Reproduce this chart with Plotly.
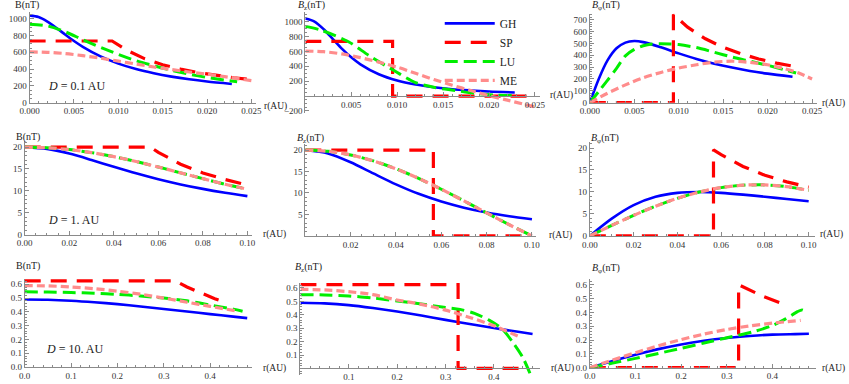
import plotly.graph_objects as go

W, H = 849, 384

# ---------------- data ----------------
# Row 1 : D = 0.1 AU
r1_gh = [0, 0.001, 0.002, 0.003, 0.004, 0.005, 0.006, 0.008, 0.010, 0.012, 0.014, 0.016, 0.018, 0.020, 0.0228]
b1_gh = [1040, 1020, 966, 892, 812, 735, 666, 551, 465, 400, 350, 310, 278, 252, 223]
bz1_gh = [1040, 1000, 897, 765, 634, 520, 426, 292, 208, 154, 118, 92, 75, 61, 48]
bp1_gh = [0, 200, 359, 459, 507, 520, 511, 467, 416, 369, 329, 296, 268, 245, 218]

r1_sp_b = [0, 0.0093, 0.011, 0.013, 0.015, 0.017, 0.019, 0.021, 0.023, 0.0245]
b1_sp = [735, 735, 622, 522, 452, 400, 358, 325, 297, 280]
r1_sp_z = [0, 0.0095, 0.0095, 0.0245]
bz1_sp = [735, 735, 0, 0]
r1_sp_p = [0, 0.0094, 0.0094, 0.011, 0.013, 0.015, 0.017, 0.019, 0.021, 0.0237]
bp1_sp = [0, 0, 745, 637, 539, 467, 412, 369, 334, 296]

r1_lu_b = [0, 0.002, 0.004, 0.006, 0.008, 0.010, 0.012, 0.014, 0.016, 0.018, 0.020, 0.022, 0.0234]
b1_lu = [935, 915, 845, 750, 660, 575, 500, 440, 385, 340, 300, 268, 250]
r1_lu_z = [0, 0.0017, 0.0047, 0.007, 0.0097, 0.012, 0.0141, 0.0163, 0.0184, 0.0205, 0.0229]
bz1_lu = [935, 885, 728, 538, 339, 180, 115, 75, 38, 14, 5]
r1_lu_p = [0, 0.001, 0.002, 0.003, 0.004, 0.005, 0.006, 0.007, 0.008, 0.009, 0.010, 0.012,
           0.014, 0.016, 0.018, 0.020, 0.022, 0.0232]
bp1_lu = [0, 95, 190, 290, 395, 450, 480, 495, 497, 495, 490, 465, 425, 385, 350, 315, 275, 250]

r1_me = [0, 0.002, 0.004, 0.006, 0.008, 0.010, 0.012, 0.014, 0.016, 0.018, 0.020, 0.022, 0.025]
b1_me = [605, 600, 585, 560, 530, 495, 460, 425, 395, 365, 340, 310, 262]
bz1_me = [604, 595, 565, 515, 455, 388, 305, 222, 145, 75, 5, -55, -146]
r1_me_p = [0, 0.002, 0.004, 0.006, 0.008, 0.010, 0.012, 0.014, 0.016, 0.018, 0.020, 0.022, 0.0235, 0.025]
bp1_me = [0, 80, 150, 210, 255, 292, 320, 342, 350, 340, 320, 285, 250, 200]

# Row 2 : D = 1 AU
r2 = [0, 0.01, 0.02, 0.03, 0.04, 0.05, 0.06, 0.07, 0.08, 0.09, 0.10]
b2_gh = [20, 19.60, 18.52, 17.06, 15.50, 14.00, 12.65, 11.47, 10.45, 9.57, 8.80]
bz2_gh = [20, 19.20, 17.15, 14.55, 12.01, 9.80, 8.01, 6.58, 5.46, 4.58, 3.87]
bp2_gh = [0, 3.92, 7.00, 8.90, 9.80, 10.0, 9.80, 9.40, 8.91, 8.41, 7.89]

r2_sp_b = [0, 0.0565, 0.06, 0.07, 0.08, 0.09, 0.10]
b2_sp = [20, 20, 18.8, 16.1, 14.1, 12.6, 11.3]
r2_sp_z = [0, 0.0565, 0.0565, 0.096]
bz2_sp = [20, 20, 0, 0]
r2_sp_p = [0, 0.0565, 0.0565, 0.06, 0.07, 0.08, 0.09, 0.10]
bp2_sp = [0, 0, 19.6, 18.5, 15.8, 13.8, 12.3, 11.1]

b2_lu = [20, 19.86, 19.43, 18.74, 17.82, 16.71, 15.45, 14.12, 12.79, 11.50, 10.38]
bz2_lu = [20, 19.71, 18.86, 17.48, 15.63, 13.40, 10.87, 8.15, 5.36, 2.60, 0.0]
bp2_lu = [0, 2.39, 4.67, 6.76, 8.55, 9.98, 10.99, 11.54, 11.61, 11.21, 10.38]

b2_me = [20, 19.86, 19.43, 18.74, 17.82, 16.71, 15.45, 14.12, 12.79, 11.50, 10.38]
bz2_me = [20, 19.71, 18.86, 17.48, 15.63, 13.40, 10.87, 8.15, 5.36, 2.60, 0.0]
bp2_me = [0, 2.39, 4.67, 6.76, 8.55, 9.98, 10.99, 11.54, 11.61, 11.21, 10.38]

# Row 3 : D = 10 AU
r3_gh = [0, 0.05, 0.1, 0.15, 0.2, 0.25, 0.3, 0.35, 0.4, 0.45, 0.48]
b3_gh = [0.490, 0.488, 0.481, 0.470, 0.456, 0.439, 0.421, 0.403, 0.384, 0.366, 0.355]
bz3_gh = [0.490, 0.485, 0.472, 0.450, 0.424, 0.394, 0.362, 0.331, 0.301, 0.273, 0.257]
bp3_gh = [0, 0.048, 0.093, 0.134, 0.168, 0.195, 0.215, 0.229, 0.239, 0.243, 0.245]

r3_sp_b = [0, 0.325, 0.35, 0.38, 0.41, 0.435]
b3_sp = [0.625, 0.625, 0.580, 0.535, 0.495, 0.467]
r3_sp_z = [0, 0.326, 0.326, 0.455]
bz3_sp = [0.625, 0.625, 0, 0]
r3_sp_p = [0, 0.326, 0.326, 0.35, 0.38, 0.42]
bp3_sp = [0, 0, 0.60, 0.56, 0.515, 0.465]

r3_lu_b = [0, 0.05, 0.1, 0.15, 0.2, 0.25, 0.3, 0.35, 0.4, 0.45, 0.47]
b3_lu = [0.545, 0.544, 0.54, 0.535, 0.527, 0.515, 0.5, 0.48, 0.45, 0.42, 0.405]
r3_lu_z = [0, 0.05, 0.1, 0.15, 0.2, 0.25, 0.3, 0.33, 0.36, 0.39, 0.417, 0.44, 0.46, 0.475]
bz3_lu = [0.55, 0.548, 0.54, 0.525, 0.503, 0.48, 0.455, 0.44, 0.41, 0.36, 0.294, 0.19, 0.08, -0.04]
r3_lu_p = [0, 0.025, 0.05, 0.1, 0.15, 0.2, 0.25, 0.3, 0.326, 0.36, 0.4, 0.43, 0.455, 0.465, 0.475]
bp3_lu = [0, 0.016, 0.033, 0.067, 0.103, 0.14, 0.178, 0.217, 0.234, 0.262, 0.305, 0.355, 0.405, 0.418, 0.40]

r3_me_b = [0, 0.05, 0.1, 0.15, 0.2, 0.25, 0.3, 0.35, 0.4, 0.46]
b3_me = [0.59, 0.588, 0.58, 0.568, 0.55, 0.528, 0.5, 0.47, 0.44, 0.405]
r3_me_z = [0, 0.05, 0.1, 0.15, 0.2, 0.25, 0.3, 0.35, 0.4, 0.455]
bz3_me = [0.59, 0.585, 0.572, 0.55, 0.51, 0.478, 0.435, 0.38, 0.318, 0.232]
r3_me_p = [0, 0.05, 0.1, 0.15, 0.2, 0.25, 0.3, 0.35, 0.4, 0.462]
bp3_me = [0, 0.055, 0.108, 0.158, 0.203, 0.243, 0.276, 0.302, 0.322, 0.342]

# tick values / labels
xt_r1 = [0, 0.005, 0.010, 0.015, 0.020, 0.025]
xl_r1 = ["0.000", "0.005", "0.010", "0.015", "0.020", "0.025"]
yt_b1 = [0, 200, 400, 600, 800, 1000]
yt_z1 = [-200, 200, 400, 600, 800, 1000]
yl_z1 = ["\u2212200", "200", "400", "600", "800", "1000"]
yt_p1 = [0, 100, 200, 300, 400, 500, 600, 700]
xt_r2 = [0, 0.02, 0.04, 0.06, 0.08, 0.10]
xl_r2 = ["0.00", "0.02", "0.04", "0.06", "0.08", "0.10"]
yt_r2 = [0, 5, 10, 15, 20]
xt_r3 = [0, 0.1, 0.2, 0.3, 0.4]
xl_r3 = ["0.0", "0.1", "0.2", "0.3", "0.4"]
yt_r3 = [0, 0.1, 0.2, 0.3, 0.4, 0.5, 0.6]
yl_r3 = ["0.0", "0.1", "0.2", "0.3", "0.4", "0.5", "0.6"]

models = ["GH", "SP", "LU", "ME"]
COL = {"GH": "#0000ff", "SP": "#ff0000", "LU": "#00ee00", "ME": "#ff8c8c"}
DASH = {"GH": "solid", "SP": "16px,10px", "LU": "13px,6px", "ME": "8px,4px"}
WID = {"GH": 2.6, "SP": 3.2, "LU": 3.0, "ME": 3.2}
SHAPE = {"GH": "spline", "SP": "linear", "LU": "spline", "ME": "spline"}

series = {
    1: [(r1_gh, b1_gh), (r1_sp_b, b1_sp), (r1_lu_b, b1_lu), (r1_me, b1_me)],
    2: [(r1_gh, bz1_gh), (r1_sp_z, bz1_sp), (r1_lu_z, bz1_lu), (r1_me, bz1_me)],
    3: [(r1_gh, bp1_gh), (r1_sp_p, bp1_sp), (r1_lu_p, bp1_lu), (r1_me_p, bp1_me)],
    4: [(r2, b2_gh), (r2_sp_b, b2_sp), (r2, b2_lu), (r2, b2_me)],
    5: [(r2, bz2_gh), (r2_sp_z, bz2_sp), (r2, bz2_lu), (r2, bz2_me)],
    6: [(r2, bp2_gh), (r2_sp_p, bp2_sp), (r2, bp2_lu), (r2, bp2_me)],
    7: [(r3_gh, b3_gh), (r3_sp_b, b3_sp), (r3_lu_b, b3_lu), (r3_me_b, b3_me)],
    8: [(r3_gh, bz3_gh), (r3_sp_z, bz3_sp), (r3_lu_z, bz3_lu), (r3_me_z, bz3_me)],
    9: [(r3_gh, bp3_gh), (r3_sp_p, bp3_sp), (r3_lu_p, bp3_lu), (r3_me_p, bp3_me)],
}

# panel layout in pixels: x_left, x_right, y_bottom, y_top, xrange, yrange,
# x ticks, x labels, y ticks, y labels, x minor step, y minor step
panels = {
    1: (20, 250.5, 104, 12.2, [0, 0.0255], [0, 1080], xt_r1, xl_r1, yt_b1, [str(v) for v in yt_b1], 0.001, 50),
    2: (301, 539.7, 114.7, 12.0, [0, 0.0255], [-230, 1130], xt_r1[1:], xl_r1[1:], yt_z1, yl_z1, 0.001, 50),
    3: (591, 822, 104, 14, [0, 0.0255], [0, 750], xt_r1, xl_r1, yt_p1, [str(v) for v in yt_p1], 0.001, 20),
    4: (15, 246.5, 237.7, 143.3, [0, 0.102], [0, 21.3], xt_r2, xl_r2, yt_r2, [str(v) for v in yt_r2], 0.005, 1),
    5: (301, 536.6, 239, 145.5, [0, 0.102], [0, 21.5], xt_r2[1:], xl_r2[1:], yt_r2[1:], [str(v) for v in yt_r2[1:]], 0.005, 1),
    6: (591, 820.7, 239, 144.2, [0, 0.103], [0, 21.3], xt_r2, xl_r2, yt_r2, [str(v) for v in yt_r2], 0.005, 1),
    7: (15, 246.5, 372, 282.4, [0, 0.49], [0, 0.64], xt_r3, xl_r3, yt_r3, yl_r3, 0.02, 0.02),
    8: (296, 540, 380.1, 286.3, [0, 0.495], [-0.05, 0.64], xt_r3[1:], xl_r3[1:], yt_r3[1:], yl_r3[1:], 0.02, 0.02),
    9: (591, 821.2, 372.5, 282.9, [0, 0.495], [0, 0.64], xt_r3, xl_r3, yt_r3, yl_r3, 0.02, 0.02),
}

FONT = "Liberation Serif"
AX = "#8a8a8a"
TXT = "#333333"

fig = go.Figure()
layout = dict(width=W, height=H, margin=dict(l=0, r=0, t=0, b=0),
              paper_bgcolor="white", plot_bgcolor="white", showlegend=True)

for k in range(1, 10):
    xl, xr, yb, yt_, xrng, yrng, xtv, xtt, ytv, ytt, xmin_, ymin_ = panels[k]
    sfx = "" if k == 1 else str(k)
    xdom = [xl / W, xr / W]
    ydom = [1 - yb / H, 1 - yt_ / H]
    xa = dict(domain=xdom, range=xrng, showgrid=False, zeroline=False,
              showline=True, linecolor=AX, linewidth=1,
              ticks="inside", ticklen=4, tickcolor=AX, tickwidth=1,
              tickmode="array", tickvals=xtv, ticktext=xtt, ticklabelstandoff=0,
              tickfont=dict(family=FONT, size=9, color=TXT),
              minor=dict(tick0=0, dtick=xmin_, ticks="inside", ticklen=2, tickcolor=AX, showgrid=False),
              fixedrange=True)
    if yrng[0] < 0:
        pos = ydom[0] + (0 - yrng[0]) / (yrng[1] - yrng[0]) * (ydom[1] - ydom[0])
        xa.update(anchor="free", position=pos)
    else:
        xa.update(anchor="y" + sfx)
    ya = dict(domain=ydom, range=yrng, showgrid=False, zeroline=False,
              showline=True, linecolor=AX, linewidth=1, anchor="x" + sfx,
              ticks="inside", ticklen=4, tickcolor=AX, tickwidth=1,
              tickmode="array", tickvals=ytv, ticktext=ytt, ticklabelstandoff=0,
              tickfont=dict(family=FONT, size=9, color=TXT),
              minor=dict(tick0=0, dtick=ymin_, ticks="inside", ticklen=2, tickcolor=AX, showgrid=False),
              fixedrange=True)
    layout["xaxis" + sfx] = xa
    layout["yaxis" + sfx] = ya
    for m, (xs, ys) in zip(models, series[k]):
        fig.add_trace(go.Scatter(
            x=xs, y=ys, mode="lines", name=m, xaxis="x" + sfx, yaxis="y" + sfx,
            line=dict(color=COL[m], width=WID[m], dash=DASH[m], shape=SHAPE[m], smoothing=0.8),
            showlegend=(k == 2), hoverinfo="skip", cliponaxis=False))

anns = []

def ann(text, px, py, size=10, xanchor="left"):
    anns.append(dict(text=text, x=px / W, y=1 - py / H, xref="paper", yref="paper",
                     xanchor=xanchor, yanchor="middle", showarrow=False,
                     font=dict(family=FONT, size=size, color="#222")))

# y-axis titles
ann("B(nT)", 3, 5)
ann("<i>B</i><sub>z</sub>(nT)", 292, 6)
ann("<i>B</i><sub>\u03c6</sub>(nT)", 591, 6)
ann("B(nT)", 4, 139)
ann("<i>B</i><sub>z</sub>(nT)", 290, 140)
ann("<i>B</i><sub>\u03c6</sub>(nT)", 590, 140)
ann("B(nT)", 4, 270)
ann("<i>B</i><sub>z</sub>(nT)", 288, 271)
ann("<i>B</i><sub>\u03c6</sub>(nT)", 591, 272)
# x-axis titles
for (px, py) in [(257, 108), (548, 97), (826, 105), (256, 238), (547, 239), (824, 238),
                 (256, 373), (549, 373), (826, 373)]:
    ann("r(AU)", px, py, size=9.5)
# D labels
ann("<i>D</i> = 0.1 AU", 37, 87, size=12)
ann("<i>D</i> = 1. AU", 37, 223, size=12)
ann("<i>D</i> = 10. AU", 35, 354, size=12)

layout["annotations"] = anns
layout["legend"] = dict(x=438 / W, y=1 - 9 / H, xanchor="left", yanchor="top",
                        bgcolor="rgba(0,0,0,0)", font=dict(family=FONT, size=11.5, color="#222"),
                        itemwidth=50, tracegroupgap=0, traceorder="normal")

fig.update_layout(**layout)
fig.write_html("out.html", config=dict(displayModeBar=False),
               post_script="document.body.style.margin='0px';document.body.style.overflow='hidden';")
